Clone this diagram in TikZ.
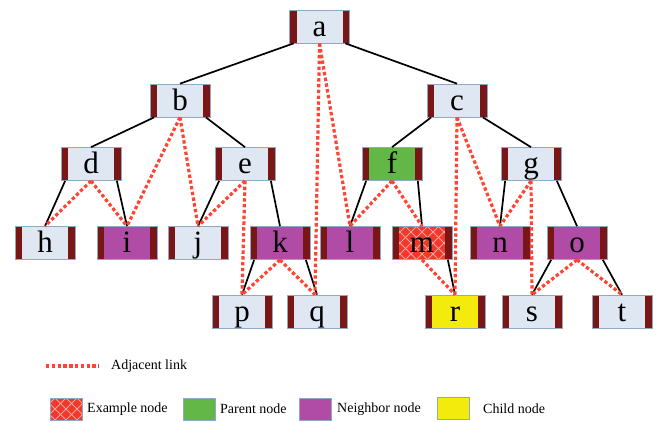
\documentclass[tikz,border=0pt]{standalone}
\usepackage{fontspec}
\setmainfont{Liberation Serif}
\definecolor{nfill}{HTML}{DFE8F2}
\definecolor{nborder}{HTML}{8FA8C4}
\definecolor{barcol}{HTML}{7A1616}
\definecolor{purp}{HTML}{B04BA6}
\definecolor{grn}{HTML}{62B746}
\definecolor{yel}{HTML}{F2EB0B}
\definecolor{exred}{HTML}{F2382A}
\definecolor{hatchcol}{HTML}{F4A3A0}
\definecolor{adjred}{HTML}{FF4433}
\newcommand\mybars{%
  \fill[barcol] (path picture bounding box.south west) rectangle ([xshift=7pt]path picture bounding box.north west);
  \fill[barcol] (path picture bounding box.south east) rectangle ([xshift=-7pt]path picture bounding box.north east);}
\newcommand\myhatch{%
  \foreach \k in {-66,-55,...,66} {
    \draw[hatchcol, line width=0.9pt] ([xshift=\k pt]path picture bounding box.center) ++(-40,-40) -- ++(80,80);
    \draw[hatchcol, line width=0.9pt] ([xshift=\k pt]path picture bounding box.center) ++(-40,40) -- ++(80,-80);
  }}
\tikzset{
  tn/.style={draw=nborder, line width=0.7pt, fill=nfill, minimum width=60pt, minimum height=33pt,
    inner sep=0pt, text height=24pt, text depth=5pt, font=\fontsize{31}{31}\selectfont,
    path picture={\mybars}},
  nb/.style={tn, fill=purp},
  pa/.style={tn, fill=grn},
  ch/.style={tn, fill=yel},
  ex/.style={tn, fill=exred, path picture={\myhatch\mybars}},
  tree/.style={black, line width=1.7pt},
  adj/.style={adjred, line width=3.2pt, dash pattern=on 3.4pt off 2.4pt},
  legbox/.style={draw=nborder, line width=0.6pt, minimum width=32pt, minimum height=22pt, inner sep=0pt},
  legtxt/.style={font=\fontsize{14}{14}\selectfont, anchor=west, inner sep=0pt}
}
\begin{document}
\begin{tikzpicture}[x=1pt,y=-1pt]
\useasboundingbox (0,0) rectangle (658,421);
% nodes
\node[tn] (a) at (319.5,26.5) {a};
\node[tn] (b) at (180,100.5) {b};
\node[tn] (c) at (457,100.5) {c};
\node[tn] (d) at (91,164) {d};
\node[tn] (e) at (245,164) {e};
\node[pa] (f) at (392,164) {f};
\node[tn] (g) at (531,164) {g};
\node[tn] (h) at (45,243) {h};
\node[nb] (i) at (127,243) {i};
\node[tn] (j) at (198,243) {j};
\node[nb] (k) at (280,243) {k};
\node[nb] (l) at (350,243) {l};
\node[ex] (m) at (422,243) {m};
\node[nb] (n) at (500,243) {n};
\node[nb] (o) at (577,243) {o};
\node[tn] (p) at (242,311.5) {p};
\node[tn] (q) at (317,311.5) {q};
\node[ch] (r) at (455,311.5) {r};
\node[tn] (s) at (532,311.5) {s};
\node[tn] (t) at (622,311.5) {t};
% tree edges
\draw[tree] ([xshift=4.5pt]a.south west) -- (b.north);
\draw[tree] ([xshift=-4.5pt]a.south east) -- (c.north);
\draw[tree] ([xshift=4.5pt]b.south west) -- (d.north);
\draw[tree] ([xshift=-4.5pt]b.south east) -- (e.north);
\draw[tree] ([xshift=4.5pt]c.south west) -- (f.north);
\draw[tree] ([xshift=-4.5pt]c.south east) -- (g.north);
\draw[tree] ([xshift=4.5pt]d.south west) -- (h.north);
\draw[tree] ([xshift=-4.5pt]d.south east) -- (i.north);
\draw[tree] ([xshift=4.5pt]e.south west) -- (j.north);
\draw[tree] ([xshift=-4.5pt]e.south east) -- (k.north);
\draw[tree] ([xshift=4.5pt]f.south west) -- (l.north);
\draw[tree] ([xshift=-4.5pt]f.south east) -- (m.north);
\draw[tree] ([xshift=4.5pt]g.south west) -- (n.north);
\draw[tree] ([xshift=-4.5pt]g.south east) -- (o.north);
\draw[tree] ([xshift=4.5pt]k.south west) -- (p.north);
\draw[tree] ([xshift=-4.5pt]k.south east) -- (q.north);
\draw[tree] ([xshift=-4.5pt]m.south east) -- (r.north);
\draw[tree] ([xshift=4.5pt]o.south west) -- (s.north);
\draw[tree] ([xshift=-4.5pt]o.south east) -- (t.north);
% adjacent links
\draw[adj] (a.south) -- (l.north);
\draw[adj] (a.south) -- ([xshift=-2pt]q.north);
\draw[adj] (b.south) -- (i.north);
\draw[adj] (b.south) -- (j.north);
\draw[adj] (d.south) -- (h.north);
\draw[adj] (d.south) -- (i.north);
\draw[adj] (e.south) -- (j.north);
\draw[adj] (e.south) -- (p.north);
\draw[adj] (k.south) -- (p.north);
\draw[adj] (k.south) -- ([xshift=-2pt]q.north);
\draw[adj] (c.south) -- (r.north);
\draw[adj] (c.south) -- (n.north);
\draw[adj] (f.south) -- (l.north);
\draw[adj] (f.south) -- (m.north);
\draw[adj] (m.south) -- (r.north);
\draw[adj] (g.south) -- (n.north);
\draw[adj] (g.south) -- (s.north);
\draw[adj] (o.south) -- (s.north);
\draw[adj] (o.south) -- (t.north);
% legend
\coordinate (la) at (46,366);
\coordinate (lb) at (99,366);
\draw[adj] (la) -- (lb);
\node[legtxt] (lt) at (111,366) {Adjacent link};
\node[legbox, fill=exred, path picture={\myhatch}] (le) at (66,409) {};
\node[legtxt] (let) at (87,409) {Example node};
\node[legbox, fill=grn] (lp) at (199,409) {};
\node[legtxt] (lpt) at (220,409) {Parent node};
\node[legbox, fill=purp] (ln) at (315,409) {};
\node[legtxt] (lnt) at (337,409) {Neighbor node};
\node[legbox, fill=yel] (lc) at (453.5,408) {};
\node[legtxt] (lct) at (483,409) {Child node};
\end{tikzpicture}
\end{document}
